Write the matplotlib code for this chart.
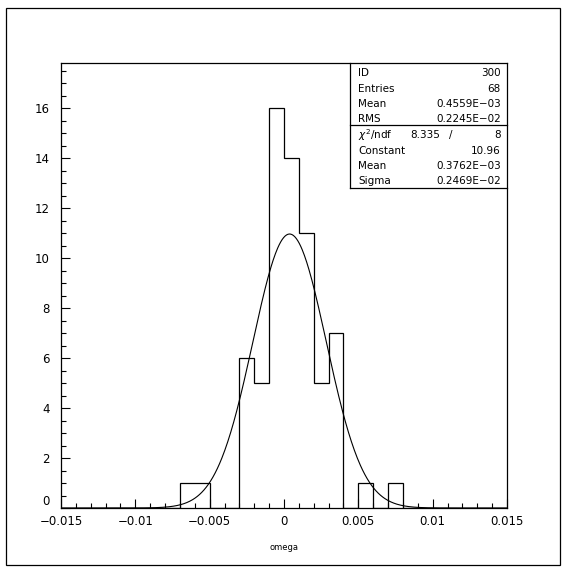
import numpy as np
import matplotlib
matplotlib.use("Agg")
import matplotlib.pyplot as plt
from matplotlib.patches import Rectangle
from matplotlib.ticker import MultipleLocator

plt.rcParams["font.family"] = "DejaVu Sans"

W, H = 566, 574

# ---- data ----
bin_edges = np.linspace(-0.015, 0.015, 31)
counts = [0, 0, 0, 0, 0, 0, 0, 0, 1, 1,
          0, 0, 6, 5, 16, 14, 11, 5, 7, 0,
          1, 0, 1, 0, 0, 0, 0, 0, 0, 0]

# gaussian fit parameters from the stats box
fit_const = 10.96
fit_mean = 0.3762e-03
fit_sigma = 0.2469e-02

x_ticks = [-0.015, -0.01, -0.005, 0, 0.005, 0.01, 0.015]
x_ticklabels = ["\u22120.015", "\u22120.01", "\u22120.005", "0", "0.005", "0.01", "0.015"]
y_ticks = [0, 2, 4, 6, 8, 10, 12, 14, 16]

stats_top = [("ID", "300"), ("Entries", "68"),
             ("Mean", "0.4559E\u221203"), ("RMS", "0.2245E\u221202")]
stats_fit = [("Constant", "10.96"), ("Mean", "0.3762E\u221203"),
             ("Sigma", "0.2469E\u221202")]
chi2_val, ndf_val = "8.335", "8"


def fx(x):
    return x / W


def fy(y):
    return 1 - y / H


fig = plt.figure(figsize=(W / 100, H / 100), dpi=100)
ax = fig.add_axes([fx(61), fy(508), (507 - 61) / W, (508 - 63) / H])

# histogram outline
ax.stairs(counts, bin_edges, color="black", linewidth=0.9)

# fitted gaussian
xs = np.linspace(-0.015, 0.015, 600)
ax.plot(xs, fit_const * np.exp(-0.5 * ((xs - fit_mean) / fit_sigma) ** 2),
        color="black", linewidth=0.8)

ax.set_xlim(-0.015, 0.015)
ax.set_ylim(0, 17.8)
ax.set_xticks(x_ticks)
ax.set_xticklabels(x_ticklabels)
ax.set_yticks(y_ticks)
ax.xaxis.set_minor_locator(MultipleLocator(0.001))
ax.yaxis.set_minor_locator(MultipleLocator(0.5))
ax.tick_params(which="both", direction="in", top=False, right=False,
               width=0.8, labelsize=8.5, colors="black")
ax.tick_params(which="major", length=6.5)
ax.tick_params(which="minor", length=3.5)
ax.tick_params(axis="x", pad=5)
ax.tick_params(axis="y", pad=8)
for s in ax.spines.values():
    s.set_linewidth(0.9)
ylabs = ax.get_yticklabels()
ylabs[0].set_verticalalignment("bottom")

fig.text(fx(284), fy(547), "omega", fontsize=6, ha="center", va="center")

# outer frame
fig.patches.append(Rectangle((fx(6), fy(565)), (560 - 6) / W, (565 - 8) / H,
                             transform=fig.transFigure, fill=False,
                             edgecolor="black", linewidth=0.9))

# stats box
bx0, by_sep, by1, bx1 = 350, 125, 188, 507
fig.add_artist(plt.Line2D([fx(bx0), fx(bx0)], [fy(63), fy(by1)],
                          transform=fig.transFigure, color="black", lw=0.9))
for yy in (by_sep, by1):
    fig.add_artist(plt.Line2D([fx(bx0), fx(bx1)], [fy(yy), fy(yy)],
                              transform=fig.transFigure, color="black", lw=0.9))

row_y = [73, 88.5, 104, 119.5, 135, 150.5, 166, 181.5]
tx_left, tx_right = 358, 501
fs = 7.5
for (lab, val), yy in zip(stats_top, row_y[:4]):
    fig.text(fx(tx_left), fy(yy), lab, fontsize=fs, ha="left", va="center")
    fig.text(fx(tx_right), fy(yy), val, fontsize=fs, ha="right", va="center")
fig.text(fx(tx_left), fy(row_y[4]), r"$\chi^2$/ndf", fontsize=fs, ha="left", va="center")
fig.text(fx(440), fy(row_y[4]), chi2_val, fontsize=fs, ha="right", va="center")
fig.text(fx(451), fy(row_y[4]), "/", fontsize=fs, ha="center", va="center")
fig.text(fx(tx_right), fy(row_y[4]), ndf_val, fontsize=fs, ha="right", va="center")
for (lab, val), yy in zip(stats_fit, row_y[5:]):
    fig.text(fx(tx_left), fy(yy), lab, fontsize=fs, ha="left", va="center")
    fig.text(fx(tx_right), fy(yy), val, fontsize=fs, ha="right", va="center")

fig.savefig("out.png", dpi=100)
